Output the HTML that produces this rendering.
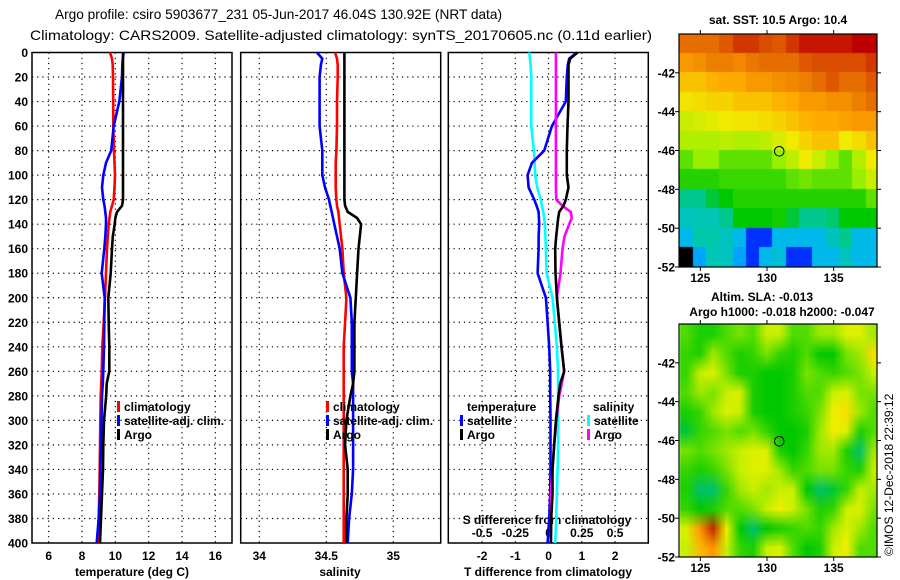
<!DOCTYPE html>
<html><head><meta charset="utf-8"><style>
body{margin:0;background:#fff;width:900px;height:580px;overflow:hidden;position:relative;font-family:"Liberation Sans",sans-serif}
canvas{position:absolute}
svg{position:absolute;left:0;top:0}
text{font-family:"Liberation Sans",sans-serif}
.b{font-weight:bold;font-size:12px}
</style></head><body>
<canvas id="sst" width="198" height="233" style="left:679px;top:34px"></canvas>
<canvas id="sla" width="198" height="233" style="left:679px;top:324px"></canvas>
<svg id="svg" width="900" height="580"></svg>
<script>
const depths=[0,5,10,20,40,60,80,90,100,110,120,125,130,135,140,150,160,180,200,220,240,260,270,280,300,320,340,360,380,400];
const tempArgo=[10.46,10.46,10.46,10.46,10.46,10.46,10.46,10.46,10.46,10.46,10.46,10.4,10.1,10.0,9.96,9.85,9.8,9.72,9.58,9.6,9.64,9.64,9.48,9.45,9.32,9.28,9.26,9.2,9.14,9.08];
const tempSat=[10.5,10.45,10.42,10.4,10.24,9.9,9.75,9.44,9.28,9.2,9.28,9.35,9.4,9.44,9.44,9.4,9.34,9.18,9.36,9.34,9.32,9.28,9.25,9.2,9.17,9.14,9.1,9.08,9.0,8.88];
const tempClim=[9.68,9.8,9.84,9.86,9.87,9.88,9.92,9.95,9.98,9.95,9.9,9.8,9.7,9.65,9.6,9.55,9.5,9.44,9.38,9.3,9.22,9.18,9.15,9.12,9.1,9.08,9.06,9.04,9.0,8.98];
const salArgo=[34.635,34.635,34.635,34.635,34.635,34.635,34.635,34.635,34.635,34.635,34.635,34.64,34.66,34.73,34.76,34.75,34.74,34.73,34.72,34.71,34.71,34.71,34.7,34.68,34.65,34.64,34.66,34.66,34.65,34.65];
const salSat=[34.43,34.47,34.46,34.45,34.45,34.45,34.47,34.47,34.47,34.49,34.52,34.53,34.54,34.55,34.56,34.58,34.6,34.62,34.68,34.69,34.69,34.69,34.7,34.7,34.7,34.7,34.7,34.69,34.67,34.66];
const salClim=[34.565,34.58,34.585,34.585,34.58,34.58,34.575,34.57,34.57,34.57,34.575,34.58,34.59,34.595,34.6,34.61,34.62,34.63,34.65,34.64,34.63,34.63,34.63,34.63,34.63,34.63,34.63,34.63,34.63,34.63];
const dTArgo=[0.87,0.65,0.6,0.6,0.6,0.57,0.55,0.55,0.55,0.6,0.52,0.45,0.32,0.29,0.27,0.23,0.2,0.21,0.25,0.32,0.39,0.47,0.35,0.3,0.22,0.17,0.12,0.12,0.08,0.07];
const dTSat=[0.85,0.62,0.58,0.55,0.52,0.1,-0.13,-0.5,-0.63,-0.6,-0.43,-0.36,-0.3,-0.29,-0.28,-0.3,-0.3,-0.33,-0.08,-0.03,0.02,0.05,0.05,0.05,0.06,0.06,0.06,0.05,0.02,-0.03];
const dSSat=[-0.145,-0.14,-0.135,-0.13,-0.13,-0.13,-0.11,-0.105,-0.1,-0.085,-0.058,-0.05,-0.04,-0.033,-0.028,-0.024,-0.02,-0.015,0.03,0.047,0.062,0.072,0.072,0.072,0.072,0.072,0.068,0.062,0.058,0.05];
const dSArgo=[0.055,0.055,0.055,0.055,0.055,0.055,0.055,0.055,0.055,0.055,0.058,0.105,0.167,0.175,0.155,0.12,0.105,0.09,0.062,0.08,0.097,0.117,0.1,0.08,0.06,0.042,0.03,0.017,0.02,0.017];
const depthTicks=[0,20,40,60,80,100,120,140,160,180,200,220,240,260,280,300,320,340,360,380,400];
const tempTicks=[6,8,10,12,14,16];
const salTicks=[34,34.5,35];
const salTickLabels=["34","34.5","35"];
const dTTicks=[-2,-1,0,1,2];
const dSTicks=[-0.5,-0.25,0,0.25,0.5];
const dSTickLabels=["-0.5","-0.25","0","0.25","0.5"];
const latTicks=[-42,-44,-46,-48,-50,-52];
const lonTicks=[125,130,135];
const sstGrid=[
[13,13,13,13.2,13.5,13.5,13.3,13.2,13.5,13.8,13.8,13.8,13.8,14,14],
[12.5,12.6,12.8,12.8,12.7,12.9,13,13,13,13.2,13.3,13.3,13.3,13.3,13.5],
[12,12,12.2,12.3,12.3,12.5,12.5,12.6,12.7,12.8,13,13.2,13,13,13.2],
[11.6,11.7,11.8,11.8,12,12,12,12.2,12.3,12.5,12.5,12.6,12.6,12.8,13],
[11.2,11.3,11.4,11.5,11.6,11.6,11.7,11.8,12,12.2,12.3,12.3,12.4,12.5,12.5],
[11,11,11,11.1,11,11,11.1,11.3,11.5,11.8,12,12,11.5,11.7,12],
[10.5,10.8,10.8,10.5,10.5,10.5,10.5,10.8,11.1,11.5,11.2,10.8,10.5,11,11.5],
[10.2,10.2,10.2,10.3,10.3,10.3,10.3,10.3,10.5,10.6,10.5,10.5,10.5,10.8,11.2],
[9.5,9.5,9.8,10,10.2,10.2,10.2,10.2,10.2,10.2,10.2,10.2,10.2,10.2,10.5],
[9.2,9.3,9.3,9.5,10,10,10,10.1,9.8,9.5,9.5,9.6,10,10,10],
[8.8,9.4,9.4,9.2,8.8,7.8,7.8,8.8,8.8,8.8,8.8,9.2,9.5,8.8,8.8],
[7.2,8.5,9.3,9.2,8.5,7.8,8.8,9.0,7.8,7.8,8.8,8.8,9.2,8.8,8.8]];
const slaGrid=[
[0,-0.2,-0.2,0,0.1,0,0.3,0.3,0,0,0.2,0.2,0.4,0.4,0.2],
[-0.1,-0.2,0.2,0,-0.2,-0.1,0.1,-0.1,-0.2,0,-0.3,-0.3,0.1,0.2,0.6],
[-0.1,0.3,0.4,0.1,-0.2,-0.2,-0.3,-0.3,-0.2,0.1,0,-0.1,0,0.1,0.3],
[0,0.2,0.1,0.3,0.4,-0.2,-0.3,-0.3,-0.2,0,0,0.3,0.4,0.1,0.1],
[-0.2,-0.1,0.2,0.4,0.3,-0.2,-0.3,-0.3,-0.2,-0.1,0.1,0.5,0.6,0.2,0],
[-0.4,-0.1,0,0.1,0,0.1,-0.1,-0.3,-0.3,-0.2,0.2,0.5,0.4,-0.2,0],
[0.1,0,0.1,0.2,0.3,0.4,0.4,-0.2,-0.3,-0.1,0.2,0.2,-0.2,-0.5,0.2],
[-0.1,-0.2,-0.1,0.1,0.3,0.4,0.4,0.2,-0.1,0,0.1,0.1,-0.1,-0.2,0.3],
[-0.2,-0.5,-0.5,-0.1,0.2,0.3,0.2,0.3,0.3,-0.3,-0.5,-0.4,-0.1,0.3,0.2],
[-0.1,-0.3,-0.2,0,0,0.1,0.3,0.5,0.3,0.1,-0.2,-0.1,0.3,0.4,0.1],
[0.4,0.8,1.0,0.5,-0.3,-0.5,-0.3,-0.2,-0.1,0,-0.1,0.2,0.4,0.2,0],
[0.3,0.7,0.8,0.3,-0.1,-0.2,0.3,0.4,0,-0.3,-0.2,0.3,0.5,0,0]];
const argoLon=130.92, argoLat=-46.04;

const NS="http://www.w3.org/2000/svg";
const svg=document.getElementById('svg');
function el(tag,attrs,parent){const e=document.createElementNS(NS,tag);for(const k in attrs)e.setAttribute(k,attrs[k]);(parent||svg).appendChild(e);return e;}
function txt(s,x,y,attrs){const t=el('text',Object.assign({x:x,y:y},attrs||{}));t.textContent=s;return t;}

const yTop=52.5,yBot=543;
const yD=d=>yTop+d*(yBot-yTop)/400;
const P1={x0:32,x1:232,lo:5,hi:17};
const P2={x0:240.7,x1:440.7,lo:34-18.6/134,hi:34+181.4/134};
const P3={x0:448.3,x1:648.3,lo:-3.015,hi:3.0};
function sx(P,v){return P.x0+(v-P.lo)*(P.x1-P.x0)/(P.hi-P.lo);}

function gridAndFrame(P,xt,name){
  const g=el('g',{});
  
  depthTicks.forEach(d=>{if(d>0&&d<400)el('line',{x1:P.x0,x2:P.x1,y1:yD(d),y2:yD(d),stroke:'#000','stroke-width':1.2,'stroke-dasharray':'1.2,4'},g);});
  xt.forEach(v=>{const x=sx(P,v);el('line',{x1:x,x2:x,y1:yTop,y2:yBot,stroke:'#000','stroke-width':1.2,'stroke-dasharray':'1.2,4'},g);});
  const r=el('rect',{x:P.x0,y:yTop,width:P.x1-P.x0,height:yBot-yTop,fill:'none',stroke:'#000','stroke-width':1.5});
  
}
gridAndFrame(P1,tempTicks,'temperature-panel');
gridAndFrame(P2,salTicks,'salinity-panel');
gridAndFrame(P3,dTTicks,'difference-panel');

depthTicks.forEach(d=>{const t=txt(String(d),28,yD(d)+4.5,{'text-anchor':'end',class:'b'});
});
tempTicks.forEach(v=>{const t=txt(String(v),sx(P1,v),560,{'text-anchor':'middle',class:'b'});
});
salTicks.forEach((v,i)=>{const t=txt(salTickLabels[i],sx(P2,v),560,{'text-anchor':'middle',class:'b'});
});
dTTicks.forEach(v=>{const t=txt(String(v),sx(P3,v),560,{'text-anchor':'middle',class:'b'});
});
dSTicks.forEach((v,i)=>{const t=txt(dSTickLabels[i],sx(P3,v*4),537,{'text-anchor':'middle',class:'b'});
});
let t;
t=txt('temperature (deg C)',132,576,{'text-anchor':'middle',class:'b'});
t=txt('salinity',340,576,{'text-anchor':'middle',class:'b'});
t=txt('T difference from climatology',548,576,{'text-anchor':'middle',class:'b'});
t=txt('S difference from climatology',547,524,{'text-anchor':'middle',class:'b'});

function series(P,vals,color,name,scale){
  const pts=depths.map((d,i)=>sx(P,vals[i]*(scale||1)).toFixed(1)+','+yD(d).toFixed(1)).join(' ');
  const l=el('polyline',{points:pts,fill:'none',stroke:color,'stroke-width':2.6,'stroke-linejoin':'round'});
  
}
series(P1,tempClim,'#ff0000','temperature-climatology-line');
series(P1,tempSat,'#0000ff','temperature-satellite-line');
series(P1,tempArgo,'#000000','temperature-argo-line');
series(P2,salClim,'#ff0000','salinity-climatology-line');
series(P2,salSat,'#0000ff','salinity-satellite-line');
series(P2,salArgo,'#000000','salinity-argo-line');
series(P3,dSSat,'#00ffff','s-diff-satellite-line',4);
series(P3,dTSat,'#0000ff','t-diff-satellite-line');
series(P3,dSArgo,'#ff00ff','s-diff-argo-line',4);
series(P3,dTArgo,'#000000','t-diff-argo-line');

function legendEntry(x,y,color,label,name){
  const g=el('g',{});
  
  el('rect',{x:x,y:y-10,width:3,height:11,fill:color},g);
  const tt=el('text',{x:x+7,y:y,class:'b'},g);tt.textContent=label;
}
legendEntry(117,411,'#ff0000','climatology','legend-entry-climatology');
legendEntry(117,425,'#0000ff','satellite-adj. clim.','legend-entry-satellite-temp');
legendEntry(117,439,'#000000','Argo','legend-entry-argo-temp');
legendEntry(326,411,'#ff0000','climatology','legend-entry-climatology-sal');
legendEntry(326,425,'#0000ff','satellite-adj. clim.','legend-entry-satellite-sal');
legendEntry(326,439,'#000000','Argo','legend-entry-argo-sal');
t=txt('temperature',467,411,{class:'b'});
legendEntry(460,425,'#0000ff','satellite','legend-entry-t-satellite');
legendEntry(460,439,'#000000','Argo','legend-entry-t-argo');
t=txt('salinity',593,411,{class:'b'});
legendEntry(587,425,'#00ffff','satellite','legend-entry-s-satellite');
legendEntry(587,439,'#ff00ff','Argo','legend-entry-s-argo');

t=txt('Argo profile: csiro 5903677_231 05-Jun-2017 46.04S 130.92E (NRT data)',55,19,{'font-size':'14px',textLength:447,lengthAdjust:'spacingAndGlyphs'});
t=txt('Climatology: CARS2009. Satellite-adjusted climatology: synTS_20170605.nc (0.11d earlier)',30,40,{'font-size':'14px',textLength:622,lengthAdjust:'spacingAndGlyphs'});

const M={x0:679,x1:877,lon0:123.4,lon1:138.25,lat0:-40,lat1:-52,h:233};
const mx=lon=>M.x0+(lon-M.lon0)*(M.x1-M.x0)/(M.lon1-M.lon0);
const my=(lat,top)=>top+(lat-M.lat0)*M.h/(M.lat1-M.lat0);
const gLon0=123.45;
function interp(stops,v){
  if(v<=stops[0][0])return stops[0][1];
  for(let i=1;i<stops.length;i++){if(v<=stops[i][0]){const a=stops[i-1],b=stops[i],f=(v-a[0])/(b[0]-a[0]);return a[1].map((c,k)=>Math.round(c+(b[1][k]-c)*f));}}
  return stops[stops.length-1][1];
}
const sstStops=[[7.4,[0,0,0]],[7.5,[0,0,255]],[8.6,[0,180,255]],[9.4,[0,200,170]],[10.0,[0,200,0]],[10.8,[150,240,0]],[11.5,[240,235,0]],[12.3,[255,170,0]],[13.0,[230,110,0]],[14.0,[190,0,0]]];
const slaStops=[[-0.6,[0,190,170]],[-0.3,[0,200,0]],[0,[80,220,0]],[0.3,[200,240,0]],[0.55,[250,240,0]],[0.8,[255,150,0]],[1.0,[190,40,0]]];
(function(){
  const c=document.getElementById('sst').getContext('2d');
  sstGrid.forEach((row,r)=>row.forEach((v,k)=>{
    const col=interp(sstStops,v);c.fillStyle='rgb('+col.join(',')+')';
    const x0=mx(gLon0+k)-M.x0,x1=mx(gLon0+k+1)-M.x0,y0=my(-40-r,0),y1=my(-41-r,0);
    c.fillRect(Math.floor(x0),Math.floor(y0),Math.ceil(x1-x0)+1,Math.ceil(y1-y0)+1);
  }));
  const off=document.createElement('canvas');off.width=slaGrid[0].length;off.height=slaGrid.length;
  const oc=off.getContext('2d');const img=oc.createImageData(off.width,off.height);
  slaGrid.forEach((row,r)=>row.forEach((v,k)=>{const col=interp(slaStops,v);const i=(r*off.width+k)*4;img.data[i]=col[0];img.data[i+1]=col[1];img.data[i+2]=col[2];img.data[i+3]=255;}));
  oc.putImageData(img,0,0);
  const c2=document.getElementById('sla').getContext('2d');c2.imageSmoothingEnabled=true;
  c2.drawImage(off,mx(gLon0)-M.x0,0,mx(gLon0+off.width)-mx(gLon0),M.h);
})();
function mapAxes(top,name,labelY){
  const r=el('rect',{x:M.x0,y:top,width:M.x1-M.x0,height:M.h,fill:'none',stroke:'#000','stroke-width':1.2});
  
  lonTicks.forEach(v=>{const x=mx(v);el('line',{x1:x,x2:x,y1:top-4,y2:top,stroke:'#000'});el('line',{x1:x,x2:x,y1:top+M.h,y2:top+M.h+4,stroke:'#000'});
    const tt=txt(String(v),x,labelY,{'text-anchor':'middle',class:'b'});});
  latTicks.forEach(v=>{const y=my(v,top);el('line',{x1:M.x1,x2:M.x1+4,y1:y,y2:y,stroke:'#000'});el('line',{x1:M.x0-4,x2:M.x0,y1:y,y2:y,stroke:'#000'});
    const tt=txt(String(v),675,y+4.5,{'text-anchor':'end',class:'b'});});
  const c=el('circle',{cx:mx(argoLon),cy:my(argoLat,top),r:4.8,fill:'none',stroke:'#000','stroke-width':1});
  
}
mapAxes(34,'sst-map',282);
mapAxes(324,'sla-map',572);
t=txt('sat. SST: 10.5 Argo: 10.4',778,24,{'text-anchor':'middle',class:'b'});
t=txt('Altim. SLA: -0.013',762,301,{'text-anchor':'middle',class:'b'});
t=txt('Argo h1000: -0.018 h2000: -0.047',782,316,{'text-anchor':'middle',class:'b'});
t=txt('©IMOS 12-Dec-2018 22:39:12',0,0,{'font-size':'12px',transform:'translate(893,556) rotate(-90)'});
</script>
</body></html>
